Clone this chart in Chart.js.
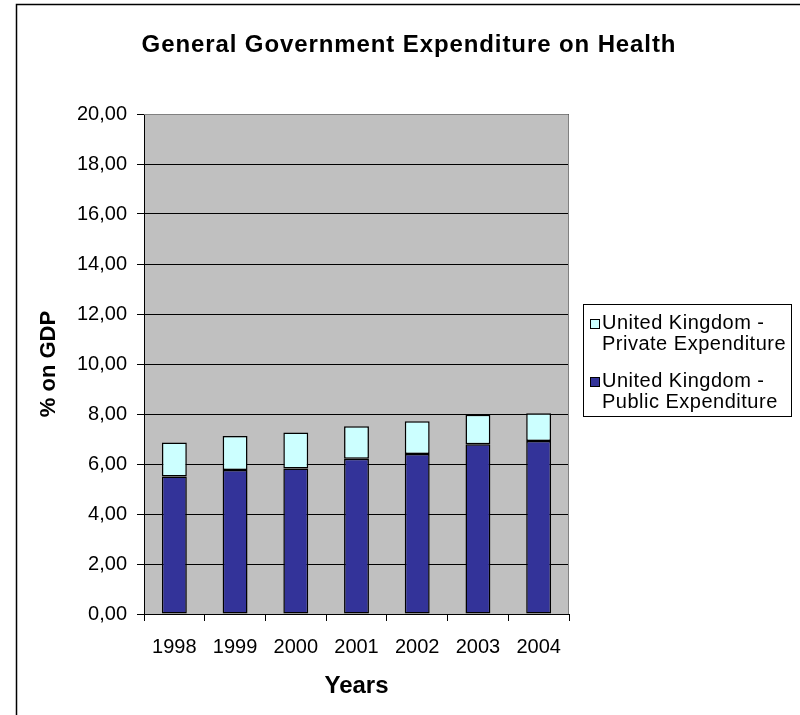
<!DOCTYPE html>
<html>
<head>
<meta charset="utf-8">
<script src="https://cdn.jsdelivr.net/npm/chart.js@4/dist/chart.umd.min.js"></script>
<style>
  html, body { margin: 0; padding: 0; background: #ffffff; }
  #wrap { width: 800px; height: 715px; position: relative; }
</style>
</head>
<body>
<div id="wrap"><canvas id="c" width="800" height="715"></canvas></div>
<script>
// Health expenditure as % of GDP, United Kingdom
const years = ['1998', '1999', '2000', '2001', '2002', '2003', '2004'];
const publicExpenditure = [5.50, 5.76, 5.82, 6.21, 6.40, 6.79, 6.92];
const privateExpenditure = [1.36, 1.36, 1.44, 1.30, 1.31, 1.18, 1.11];

const chartTitle = 'General Government Expenditure on Health';
const yTitle = '% on GDP';
const xTitle = 'Years';
const publicLabel = ['United Kingdom -', 'Public Expenditure'];
const privateLabel = ['United Kingdom -', 'Private Expenditure'];

const FONT = '"Liberation Sans", Arial, sans-serif';
const PUBLIC_COLOR = '#333399';
const PRIVATE_COLOR = '#ccffff';

// grey plot background, frame around the chart, title and legend box
const decorations = {
  id: 'decorations',
  beforeDraw(chart) {
    const { ctx, chartArea: a } = chart;
    ctx.save();
    ctx.fillStyle = '#c0c0c0';
    ctx.fillRect(a.left, a.top, a.right - a.left, a.bottom - a.top);
    ctx.restore();
  },
  afterDraw(chart) {
    const { ctx, chartArea: a } = chart;
    ctx.save();
    // plot frame (top and right edges)
    ctx.strokeStyle = '#808080';
    ctx.lineWidth = 1;
    ctx.beginPath();
    ctx.moveTo(a.left, a.top + 0.5);
    ctx.lineTo(a.right - 0.5, a.top + 0.5);
    ctx.lineTo(a.right - 0.5, a.bottom);
    ctx.stroke();

    // outer chart frame
    ctx.strokeStyle = '#000000';
    ctx.lineWidth = 1.5;
    ctx.strokeRect(16.5, 4.5, 1000, 1000);

    // title
    ctx.fillStyle = '#000000';
    ctx.font = 'bold 24px ' + FONT;
    ctx.textAlign = 'center';
    ctx.textBaseline = 'alphabetic';
    if ('letterSpacing' in ctx) ctx.letterSpacing = '0.9px';
    ctx.fillText(chartTitle, 409, 52);

    // legend
    if ('letterSpacing' in ctx) ctx.letterSpacing = '0.5px';
    ctx.fillStyle = '#ffffff';
    ctx.fillRect(583.5, 304.5, 208, 112);
    ctx.strokeStyle = '#000000';
    ctx.lineWidth = 1;
    ctx.strokeRect(583.5, 304.5, 208, 112);
    const entries = [
      { lines: privateLabel, color: PRIVATE_COLOR, base: 329 },
      { lines: publicLabel, color: PUBLIC_COLOR, base: 387 }
    ];
    ctx.font = '20px ' + FONT;
    ctx.textAlign = 'left';
    entries.forEach(e => {
      ctx.fillStyle = e.color;
      ctx.fillRect(590.5, e.base - 9.5, 9, 9);
      ctx.strokeRect(590.5, e.base - 9.5, 9, 9);
      ctx.fillStyle = '#000000';
      e.lines.forEach((t, i) => ctx.fillText(t, 602, e.base + i * 21));
    });
    ctx.restore();
  }
};

new Chart(document.getElementById('c'), {
  type: 'bar',
  data: {
    labels: years,
    datasets: [
      {
        label: publicLabel.join(' '),
        data: publicExpenditure,
        backgroundColor: PUBLIC_COLOR,
        borderColor: '#000000',
        borderWidth: 1.5,
        borderSkipped: false,
        categoryPercentage: 1,
        barPercentage: 0.41
      },
      {
        label: privateLabel.join(' '),
        data: privateExpenditure,
        backgroundColor: PRIVATE_COLOR,
        borderColor: '#000000',
        borderWidth: 1.5,
        borderSkipped: false,
        categoryPercentage: 1,
        barPercentage: 0.41
      }
    ]
  },
  options: {
    responsive: false,
    animation: false,
    devicePixelRatio: 1,
    layout: { padding: { left: 18, top: 114, right: 231, bottom: 0 } },
    plugins: {
      legend: { display: false },
      title: { display: false },
      tooltip: { enabled: false }
    },
    scales: {
      x: {
        stacked: true,
        offset: true,
        grid: {
          offset: true,
          drawOnChartArea: false,
          drawTicks: true,
          tickLength: 7,
          color: '#000000',
          lineWidth: 1
        },
        border: { color: '#000000', width: 1 },
        ticks: {
          color: '#000000',
          font: { family: FONT, size: 20 },
          padding: 14,
          maxRotation: 0
        },
        title: {
          display: true,
          text: xTitle,
          color: '#000000',
          font: { family: FONT, size: 24, weight: 'bold' },
          padding: { top: 0, bottom: 14 }
        },
        afterFit(scale) { scale.height = 101; }
      },
      y: {
        stacked: true,
        min: 0,
        max: 20,
        grid: {
          color: '#000000',
          lineWidth: 1,
          drawTicks: true,
          tickLength: 7
        },
        border: { color: '#000000', width: 1 },
        ticks: {
          stepSize: 2,
          color: '#000000',
          font: { family: FONT, size: 20 },
          padding: 10,
          callback: v => v.toFixed(2).replace('.', ',')
        },
        title: {
          display: true,
          text: yTitle,
          color: '#000000',
          font: { family: FONT, size: 22, weight: 'bold' },
          padding: { top: 18, bottom: 0 }
        },
        afterFit(scale) { scale.width = 126; }
      }
    }
  },
  plugins: [decorations]
});
</script>
</body>
</html>
